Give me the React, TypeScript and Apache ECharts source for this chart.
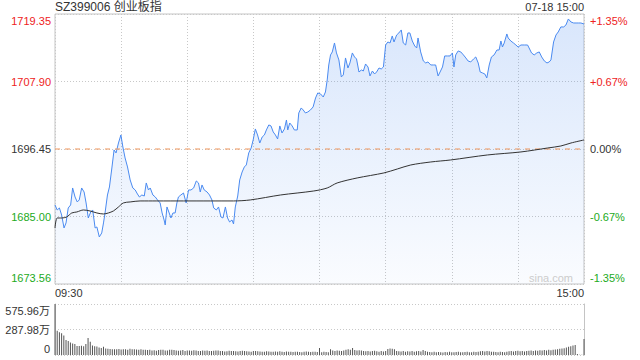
import React, { useEffect, useRef } from 'react';
import * as echarts from 'echarts';

const TITLE = 'SZ399006 创业板指';
const DATE_TIME = '07-18 15:00';
const WATERMARK = 'sina.com';
const PREV_CLOSE = 1696.45;
const Y_MIN = 1673.555;
const Y_MAX = 1719.345;
const Y_STEP = 11.4475;
const PRICE_TICKS = ['1673.56', '1685.00', '1696.45', '1707.90', '1719.35'];
const PCT_TICKS = ['-1.35%', '-0.67%', '0.00%', '+0.67%', '+1.35%'];
const VOL_MAX = 575.96;
const VOL_STEP = 287.98;
const VOL_TICKS = ['0', '287.98万', '575.96万'];
const TIME_TICKS = ['09:30', '15:00'];
const SESSION_MINUTES = [0, 240];

// minutes since 09:30 (lunch break removed) and index price
const PRICE_T = [
  0, 1, 2, 3, 4.1, 5, 6, 7.1, 8, 9.1,
  10.1, 11, 12.1, 13.2, 14.1, 15.1, 16.2, 17.1, 18.2, 19,
  20.1, 21.2, 22, 22.7, 23.8, 24.7, 25.8, 26.8, 27.7, 28.8,
  29.9, 30.8, 31.8, 32.9, 34.1, 35.3, 36.4, 37.4, 38.3, 39.4,
  40.5, 41.4, 42.4, 43.2, 44.4, 45.5, 46.5, 47.7, 48.6, 49.5,
  50, 50.8, 51.8, 52.6, 53.5, 54.5, 55.3, 56, 57.1, 58.3,
  59.5, 60.6, 61.7, 62.9, 64.1, 65.1, 65.9, 66.7, 67.7, 69,
  70.1, 71.2, 72, 73.2, 74.2, 75.3, 76.2, 77.3, 78.3, 79.2,
  80.3, 81, 81.8, 82.9, 83.8, 84.9, 85.9, 86.8, 87.9, 89,
  89.9, 90.9, 91.9, 92.9, 94, 95, 95.9, 97, 98, 99,
  100, 101, 102, 103, 104.1, 105, 105.6, 106.5, 107.6, 108.6,
  109.9, 110.6, 111.7, 112.6, 113.6, 114.7, 115.9, 117.1, 118.2, 119.2,
  120.5, 121.7, 122.7, 123.5, 124.2, 125, 125.8, 126.8, 127.7, 128.8,
  129.9, 130.8, 131.8, 132.9, 133.8, 134.9, 135.9, 136.8, 137.9, 139,
  139.9, 140.9, 142, 142.9, 144, 145, 145.9, 147, 148, 149,
  150, 151, 152, 153, 153.8, 155, 156, 157.1, 158, 159.1,
  160.1, 161, 162.1, 163.2, 164.1, 164.7, 165.9, 167.1, 168.2, 169.2,
  170.5, 171.7, 172.7, 173.8, 174.7, 175.8, 176.8, 178, 179.2, 180.3,
  181, 181.8, 182.9, 184.1, 185.3, 186.4, 187.4, 188.6, 189.9, 190.9,
  192, 192.9, 194, 195, 195.9, 197, 198, 199.2, 200.5, 201.5,
  202.3, 203, 203.8, 205, 205.6, 206.8, 208, 209.1, 210.1, 211.4,
  212.9, 214.4, 215.1, 216.2, 217.4, 218.6, 219.7, 220.8, 222, 223.2,
  224.2, 225, 226.2, 227.3, 228.3, 229.5, 230.8, 231.8, 232.9, 234.1,
  235.3, 236.4, 237.4, 238.6, 240,
];
const PRICE = [
  1686.96, 1686.11, 1686.45, 1685.26, 1683.06, 1683.91, 1686.45, 1686.96, 1689.84, 1688.31,
  1687.47, 1687.81, 1689.84, 1689.16, 1687.30, 1684.75, 1685.77, 1686.11, 1683.06, 1683.23,
  1681.53, 1682.21, 1683.91, 1685.60, 1688.65, 1690.01, 1693.23, 1696.29, 1695.78, 1697.47,
  1698.83, 1696.79, 1694.93, 1693.40, 1691.20, 1689.84, 1689.50, 1688.82, 1688.31, 1688.65,
  1688.48, 1690.69, 1689.50, 1689.84, 1688.65, 1688.31, 1687.81, 1687.30, 1685.60, 1684.41,
  1683.57, 1686.62, 1685.60, 1684.75, 1685.60, 1685.60, 1687.30, 1688.31, 1688.65, 1688.99,
  1687.30, 1689.50, 1689.50, 1689.84, 1691.03, 1690.69, 1689.16, 1690.35, 1689.50, 1689.16,
  1688.65, 1687.81, 1686.45, 1686.11, 1686.62, 1684.92, 1684.75, 1686.62, 1684.75, 1684.08,
  1684.41, 1683.74, 1686.62, 1688.48, 1691.20, 1692.55, 1693.40, 1693.74, 1695.78, 1696.62,
  1697.98, 1699.85, 1698.83, 1697.47, 1698.49, 1698.83, 1699.68, 1700.53, 1700.36, 1699.34,
  1698.83, 1698.15, 1700.36, 1699.17, 1699.85, 1701.37, 1699.68, 1700.86, 1700.36, 1699.68,
  1699.68, 1702.56, 1703.41, 1703.07, 1702.56, 1702.73, 1703.07, 1703.58, 1705.10, 1705.95,
  1705.78, 1705.27, 1706.12, 1708.16, 1710.70, 1712.40, 1712.91, 1714.43, 1712.74, 1711.55,
  1708.67, 1709.01, 1711.89, 1710.19, 1711.04, 1712.74, 1712.06, 1711.72, 1709.51, 1709.85,
  1709.68, 1710.87, 1710.36, 1708.84, 1709.68, 1709.17, 1709.51, 1710.19, 1710.02, 1710.36,
  1714.09, 1714.60, 1714.43, 1715.62, 1714.60, 1715.79, 1716.13, 1716.64, 1714.43, 1714.09,
  1716.13, 1716.13, 1714.77, 1713.92, 1713.58, 1715.28, 1712.91, 1711.38, 1711.04, 1711.21,
  1710.70, 1710.70, 1710.70, 1708.84, 1709.51, 1710.36, 1712.23, 1712.23, 1712.23, 1712.74,
  1710.36, 1712.40, 1713.08, 1712.91, 1712.40, 1711.89, 1711.38, 1711.21, 1711.72, 1712.06,
  1711.04, 1709.51, 1709.34, 1709.17, 1708.50, 1710.70, 1712.06, 1712.40, 1713.24, 1713.24,
  1714.77, 1713.75, 1714.43, 1715.96, 1715.28, 1714.77, 1714.43, 1714.09, 1713.75, 1714.09,
  1714.09, 1714.09, 1713.58, 1712.74, 1712.40, 1712.74, 1712.91, 1712.06, 1711.38, 1711.04,
  1711.21, 1711.55, 1714.60, 1715.79, 1716.30, 1717.15, 1717.15, 1717.48, 1718.50, 1717.99,
  1717.82, 1717.82, 1717.82, 1717.82, 1717.65,
];

// average price line
const AVG_T = [
  0, 1, 3, 5.3, 7.6, 9.9, 12.9, 15.9, 19, 22,
  24.2, 26.5, 28.8, 31, 34.1, 38.6, 46.2, 58.3, 70.5, 81,
  88.6, 102.3, 117.4, 123.5, 128, 137.1, 149.2, 155.3, 161.4, 170.5,
  179.5, 196.2, 211.4, 223.5, 229.5, 234.1, 240,
];
const AVG = [
  1683.06, 1684.75, 1684.75, 1684.92, 1685.60, 1685.77, 1686.11, 1685.94, 1685.60, 1685.43,
  1685.60, 1685.94, 1686.62, 1687.30, 1687.47, 1687.64, 1687.64, 1687.64, 1687.64, 1687.64,
  1687.81, 1688.65, 1689.33, 1689.84, 1690.69, 1691.54, 1692.39, 1693.06, 1693.74, 1694.25,
  1694.59, 1695.44, 1695.95, 1696.62, 1696.96, 1697.47, 1697.98,
];

// per-minute volume, 万
const VOLUME = [
  575.96, 273, 258, 246, 220, 170, 159, 140, 129, 125, 102, 102, 104, 98, 125, 193, 151, 106, 100, 95, 86,
  80, 92, 72, 70, 68, 66, 64, 66, 68, 62, 64, 66, 60, 70, 66, 64, 62, 60, 64, 58,
  60, 56, 58, 52, 54, 48, 56, 58, 60, 50, 52, 58, 60, 56, 50, 48, 52, 56, 46, 50,
  52, 48, 54, 50, 46, 44, 52, 48, 50, 46, 44, 48, 52, 50, 44, 46, 40, 42, 48, 46,
  44, 42, 40, 46, 48, 44, 42, 40, 38, 44, 46, 42, 40, 36, 38, 42, 40, 36, 38, 40,
  38, 42, 36, 34, 40, 38, 36, 34, 38, 36, 34, 32, 38, 40, 36, 34, 36, 38, 34, 80,
  32, 36, 34, 30, 65, 50, 46, 52, 48, 44, 50, 60, 66, 58, 80, 56, 52, 54, 50, 44,
  42, 46, 40, 44, 48, 42, 38, 44, 40, 46, 68, 74, 70, 64, 46, 42, 40, 44, 38, 42,
  40, 44, 38, 42, 46, 40, 57, 44, 36, 34, 32, 36, 30, 34, 32, 28, 34, 30, 36, 32,
  30, 34, 36, 32, 30, 34, 38, 32, 30, 36, 34, 38, 42, 46, 40, 44, 42, 38, 36, 34,
  32, 36, 34, 30, 38, 42, 46, 40, 44, 48, 42, 46, 40, 44, 48, 50, 46, 52, 48, 54,
  50, 56, 52, 58, 54, 60, 62, 66, 70, 72, 76, 84, 92, 100, 106, 114, 10, 4, 4, 182,
];

const FONT = "'Liberation Sans', Arial, 'Noto Sans CJK SC', sans-serif";
const RED = '#ee2222';
const GREEN = '#22aa22';
const DARK = '#333333';
const GRID_LINE = '#c8c8c8';
const PREV_LINE = '#f0955a';

const priceIndex = (v: number) => Math.round((Number(v) - Y_MIN) / Y_STEP);
const priceColor = (v: any) => {
  const i = priceIndex(v);
  return i > 2 ? RED : i < 2 ? GREEN : DARK;
};
// top label sits below its line, bottom label above it
const edge = (label: string, i: number, n: number) =>
  i === n - 1 ? '\n' + label : i === 0 ? label + '\n' : label;

export default function App() {
  const ref = useRef<HTMLDivElement>(null);
  useEffect(() => {
    if (!ref.current) return;
    const chart = echarts.init(ref.current, null, { renderer: 'svg' });
    const dotted = { show: true, lineStyle: { color: GRID_LINE, type: [1, 2], width: 1 } };
    chart.setOption({
      animation: false,
      backgroundColor: '#ffffff',
      textStyle: { fontFamily: FONT },
      title: [
        { text: TITLE, left: 55, top: 1, padding: 0, textStyle: { fontSize: 12, fontWeight: 'normal', color: DARK, fontFamily: FONT } },
        { text: DATE_TIME, right: 56, top: 1, padding: 0, textStyle: { fontSize: 11, fontWeight: 'normal', color: DARK, fontFamily: FONT } },
        { text: WATERMARK, right: 67, top: 272, padding: 0, textStyle: { fontSize: 11, fontWeight: 'normal', color: '#cccccc', fontFamily: FONT } },
      ],
      grid: [
        { left: 55, right: 56, top: 14, height: 270, show: true, borderColor: '#c4c4c4', borderWidth: 1, backgroundColor: 'transparent', outerBoundsMode: 'none' },
        { left: 55, right: 56, top: 304, height: 51, outerBoundsMode: 'none' },
      ],
      xAxis: [
        {
          type: 'value', gridIndex: 0, min: 0, max: 240, interval: 30,
          axisLine: { show: false }, axisTick: { show: false }, splitLine: dotted,
          axisLabel: {
            show: true, margin: 3, fontSize: 11, color: DARK, fontFamily: FONT,
            alignMinLabel: 'left', alignMaxLabel: 'right',
            formatter: (v: number) => (v === 0 ? TIME_TICKS[0] : v === 240 ? TIME_TICKS[1] : ''),
          },
        },
        { type: 'value', gridIndex: 1, min: 0, max: 240, show: false },
      ],
      yAxis: [
        {
          type: 'value', gridIndex: 0, position: 'left', min: Y_MIN, max: Y_MAX, interval: Y_STEP,
          axisLine: { show: false }, axisTick: { show: false }, splitLine: dotted,
          axisLabel: {
            margin: 4, fontSize: 11, lineHeight: 13, fontFamily: FONT, color: priceColor,
            formatter: (v: number) => {
              const i = priceIndex(v);
              return edge(PRICE_TICKS[i], i, PRICE_TICKS.length);
            },
          },
        },
        {
          type: 'value', gridIndex: 0, position: 'right', min: Y_MIN, max: Y_MAX, interval: Y_STEP,
          axisLine: { show: false }, axisTick: { show: false }, splitLine: { show: false },
          axisLabel: {
            margin: 6, fontSize: 11, lineHeight: 13, fontFamily: FONT, color: priceColor,
            formatter: (v: number) => {
              const i = priceIndex(v);
              return edge(PCT_TICKS[i], i, PCT_TICKS.length);
            },
          },
        },
        {
          type: 'value', gridIndex: 1, position: 'left', min: 0, max: VOL_MAX, interval: VOL_STEP,
          axisLine: { show: true, lineStyle: { color: '#c4c4c4', width: 1 } }, axisTick: { show: false }, splitLine: dotted,
          axisLabel: {
            margin: 5, fontSize: 11, lineHeight: 13, fontFamily: FONT, color: DARK,
            formatter: (v: number) => {
              const i = Math.round(v / VOL_STEP);
              return edge(VOL_TICKS[i], i, VOL_TICKS.length);
            },
          },
        },
        {
          type: 'value', gridIndex: 1, position: 'right', min: 0, max: VOL_MAX, interval: VOL_STEP,
          axisLine: { show: true, lineStyle: { color: '#c4c4c4', width: 1 } }, axisTick: { show: false },
          axisLabel: { show: false }, splitLine: { show: false },
        },
      ],
      series: [
        {
          type: 'line', xAxisIndex: 0, yAxisIndex: 0,
          data: PRICE_T.map((t, i) => [t, PRICE[i]]),
          symbol: 'none', showSymbol: false,
          lineStyle: { color: '#4a8af0', width: 1 },
          areaStyle: {
            color: new echarts.graphic.LinearGradient(0, 0, 0, 1, [
              { offset: 0, color: 'rgba(74,138,240,0.30)' },
              { offset: 1, color: 'rgba(74,138,240,0.04)' },
            ]),
          },
          z: 3,
        },
        {
          // previous close reference line
          type: 'line', xAxisIndex: 0, yAxisIndex: 0,
          data: SESSION_MINUTES.map((t) => [t, PREV_CLOSE]),
          symbol: 'none', showSymbol: false, silent: true,
          itemStyle: { color: PREV_LINE },
          lineStyle: { color: PREV_LINE, type: [5, 5], width: 1 },
          z: 3,
        },
        {
          type: 'line', xAxisIndex: 0, yAxisIndex: 0,
          data: AVG_T.map((t, i) => [t, AVG[i]]),
          symbol: 'none', showSymbol: false, smooth: 0.3,
          lineStyle: { color: '#333333', width: 1 },
          z: 4,
        },
        {
          type: 'bar', xAxisIndex: 1, yAxisIndex: 2,
          data: VOLUME.map((v, i) => [i, v]),
          barWidth: 1,
          itemStyle: { color: '#555555' },
        },
      ],
    });
    return () => chart.dispose();
  }, []);
  return (
    <div
      ref={ref}
      style={{ position: 'fixed', left: 0, top: 0, width: 640, height: 360, background: '#fff' }}
    />
  );
}
